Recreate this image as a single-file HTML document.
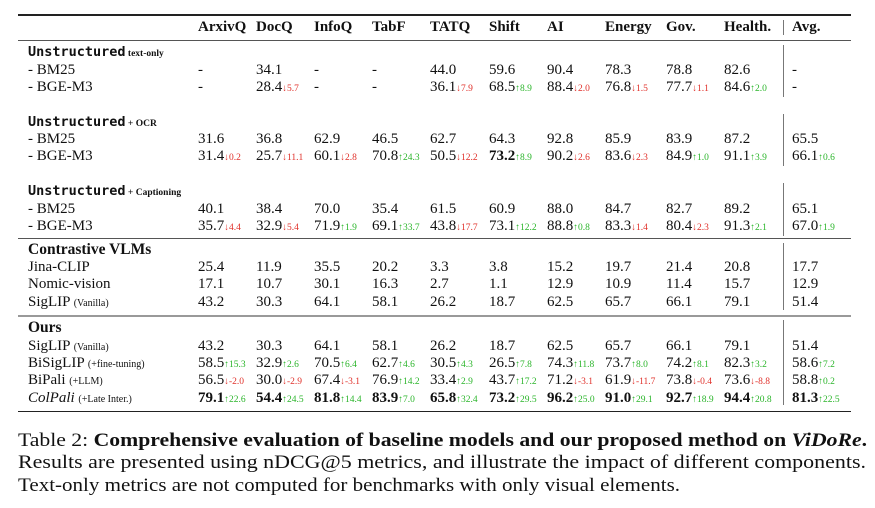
<!DOCTYPE html>
<html><head><meta charset="utf-8">
<style>
body{margin:0;background:#fff;}
#t{position:relative;width:875px;height:508px;overflow:hidden;font-family:"Liberation Serif","Tinos","Times New Roman","Nimbus Roman","Noto Serif CJK SC",serif;color:#111;}
.c{position:absolute;white-space:nowrap;font-size:15px;line-height:18px;height:18px;}
.h{font-weight:bold;}
.d{font-size:9.5px;}
.up{color:#2bb52b;}.dn{color:#e0302a;}
.m{font-family:"DejaVu Sans Mono","Liberation Mono",monospace;font-weight:bold;font-size:13.5px;}
.sm{font-size:9.5px;font-weight:bold;}
.sub{font-size:10px;}
.rule{position:absolute;left:18px;width:833px;background:#222;}
.vb{position:absolute;left:783px;width:1px;background:#777;}
.cap{position:absolute;left:18px;font-size:19px;line-height:22px;white-space:nowrap;transform-origin:0 0;}
</style></head>
<body>
<div id="t">
<div class="rule" style="top:14px;height:1.5px"></div>
<div class="rule" style="top:39.5px;height:1px;background:#555"></div>
<div class="rule" style="top:237.5px;height:1px;background:#555"></div>
<div class="rule" style="top:315px;height:2px;background:#999"></div>
<div class="rule" style="top:410.5px;height:1.5px"></div>
<div class="vb" style="top:20px;height:15px"></div>
<div class="vb" style="top:45px;height:52px"></div>
<div class="vb" style="top:114px;height:52px"></div>
<div class="vb" style="top:183px;height:53px"></div>
<div class="vb" style="top:243px;height:67px"></div>
<div class="vb" style="top:320px;height:85px"></div>

<div class="c m" style="left:28px;top:43px">Unstructured<span class="sm" style="font-family:'Liberation Serif',serif"> text-only</span></div>
<div class="c m" style="left:28px;top:113px">Unstructured<span class="sm" style="font-family:'Liberation Serif',serif"> + OCR</span></div>
<div class="c m" style="left:28px;top:182px">Unstructured<span class="sm" style="font-family:'Liberation Serif',serif"> + Captioning</span></div>
<div class="c h" style="left:28px;top:241px;font-size:15.5px">Contrastive VLMs</div>
<div class="c h" style="left:28px;top:319px;font-size:15.5px">Ours</div>

<div class="cap" id="cap1" style="top:430px">Table 2: <b>Comprehensive evaluation of baseline models and our proposed method on <i>ViDoRe</i>.</b></div>
<div class="cap" id="cap2" style="top:452px">Results are presented using nDCG@5 metrics, and illustrate the impact of different components.</div>
<div class="cap" id="cap3" style="top:475px">Text-only metrics are not computed for benchmarks with only visual elements.</div>
</div>
<script>
const columns=["ArxivQ","DocQ","InfoQ","TabF","TATQ","Shift","AI","Energy","Gov.","Health.","Avg."];
const colX=[198,256,314,372,430,489,547,605,666,724,792];
const rowLabels=["- BM25","- BGE-M3","- BM25","- BGE-M3","- BM25","- BGE-M3","Jina-CLIP","Nomic-vision","SigLIP|(Vanilla)","SigLIP|(Vanilla)","BiSigLIP|(+fine-tuning)","BiPali|(+LLM)","*ColPali|(+Late Inter.)"];
const rowY=[70,87,139,156,209,226,267,284,302,346,363,380,398];
const values=[
["-","34.1","-","-","44.0","59.6","90.4","78.3","78.8","82.6","-"],
["-","28.4","-","-","36.1","68.5","88.4","76.8","77.7","84.6","-"],
["31.6","36.8","62.9","46.5","62.7","64.3","92.8","85.9","83.9","87.2","65.5"],
["31.4","25.7","60.1","70.8","50.5","*73.2","90.2","83.6","84.9","91.1","66.1"],
["40.1","38.4","70.0","35.4","61.5","60.9","88.0","84.7","82.7","89.2","65.1"],
["35.7","32.9","71.9","69.1","43.8","73.1","88.8","83.3","80.4","91.3","67.0"],
["25.4","11.9","35.5","20.2","3.3","3.8","15.2","19.7","21.4","20.8","17.7"],
["17.1","10.7","30.1","16.3","2.7","1.1","12.9","10.9","11.4","15.7","12.9"],
["43.2","30.3","64.1","58.1","26.2","18.7","62.5","65.7","66.1","79.1","51.4"],
["43.2","30.3","64.1","58.1","26.2","18.7","62.5","65.7","66.1","79.1","51.4"],
["58.5","32.9","70.5","62.7","30.5","26.5","74.3","73.7","74.2","82.3","58.6"],
["56.5","30.0","67.4","76.9","33.4","43.7","71.2","61.9","73.8","73.6","58.8"],
["*79.1","*54.4","*81.8","*83.9","*65.8","*73.2","*96.2","*91.0","*92.7","*94.4","*81.3"]];
const deltas=[
["","","","","","","","","","",""],
["","d5.7","","","d7.9","u8.9","d2.0","d1.5","d1.1","u2.0",""],
["","","","","","","","","","",""],
["d0.2","d11.1","d2.8","u24.3","d12.2","u8.9","d2.6","d2.3","u1.0","u3.9","u0.6"],
["","","","","","","","","","",""],
["d4.4","d5.4","u1.9","u33.7","d17.7","u12.2","u0.8","d1.4","d2.3","u2.1","u1.9"],
["","","","","","","","","","",""],
["","","","","","","","","","",""],
["","","","","","","","","","",""],
["","","","","","","","","","",""],
["u15.3","u2.6","u6.4","u4.6","u4.3","u7.8","u11.8","u8.0","u8.1","u3.2","u7.2"],
["d-2.0","d-2.9","d-3.1","u14.2","u2.9","u17.2","d-3.1","d-11.7","d-0.4","d-8.8","u0.2"],
["u22.6","u24.5","u14.4","u7.0","u32.4","u29.5","u25.0","u29.1","u18.9","u20.8","u22.5"]];
const t=document.getElementById('t');
columns.forEach((c,i)=>{
 const el=document.createElement('div');el.className='c h';
 el.style.left=colX[i]+'px';el.style.top='18px';el.textContent=c;
 
 
 t.appendChild(el);
});
rowLabels.forEach((lab,r)=>{
 const el=document.createElement('div');el.className='c';
 el.style.left='28px';el.style.top=(rowY[r]-9)+'px';
 let [main,sub]=lab.split('|');let it=false;
 if(main[0]=='*'){main=main.slice(1);it=true;}
 el.innerHTML=(it?'<i>'+main+'</i>':main)+(sub?' <span class="sub">'+sub+'</span>':'');
 
 
 t.appendChild(el);
 values[r].forEach((v,i)=>{
  const c=document.createElement('div');c.className='c';
  c.style.left=colX[i]+'px';c.style.top=(rowY[r]-9)+'px';
  let bold=false;if(v[0]=='*'){v=v.slice(1);bold=true;}
  let h=bold?'<b>'+v+'</b>':v;
  const d=deltas[r][i];
  if(d){const up=d[0]=='u';h+='<span class="d '+(up?'up':'dn')+'">'+(up?'↑':'↓')+d.slice(1)+'</span>';}
  c.innerHTML=h;
  
  
  t.appendChild(c);
 });
});
[['cap1',849],['cap2',848],['cap3',662]].forEach(([id,w])=>{
 const e=document.getElementById(id);const bw=e.getBoundingClientRect().width;
 e.style.transform='scaleX('+(w/bw)+')';
});
</script>
</body></html>
